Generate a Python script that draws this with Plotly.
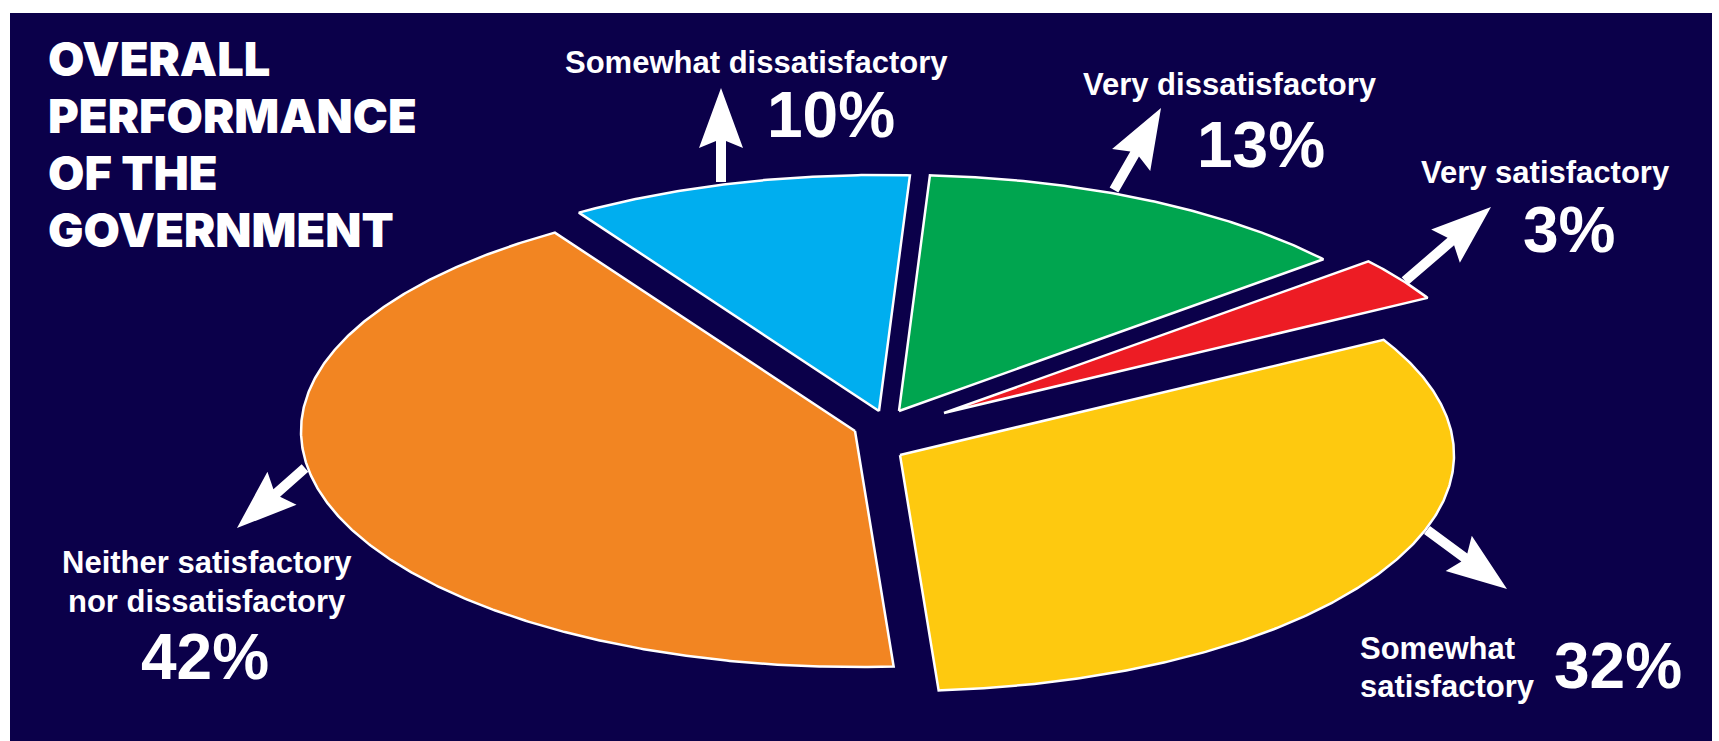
import numpy as np
import plotly.graph_objects as go

# ---------------- data ----------------
categories = ["Somewhat satisfactory", "Very satisfactory", "Very dissatisfactory",
              "Somewhat dissatisfactory", "Neither satisfactory nor dissatisfactory"]
values = [32, 3, 13, 10, 42]
value_labels = ["32%", "3%", "13%", "10%", "42%"]
title_lines = ["OVERALL", "PERFORMANCE", "OF THE", "GOVERNMENT"]

# ---------------- style / layout ----------------
W, H = 1719, 741
MARGIN = dict(l=10, r=7, t=13, b=0)
NAVY = "#0B004A"
colors = ["#FEC90F", "#ED1C24", "#00A54F", "#00AEEF", "#F28522"]
START_ANGLE = -86.0          # first slice starts here, slices go counter-clockwise
RX_PX, RY_PX = 554, 236      # pie radius (perspective ellipse) in pixels
CX_PX, CY_PX = 872, 436      # pie centre in pixels
# explode displacement of each slice in pixels (x right, y down)
explode_px = [(28, 19), (72, -23), (27, -25), (7, -25), (-17, -5)]

LABEL_FONT = "Liberation Sans, Arial, Helvetica, sans-serif"
TITLE_FONT = "Inter, Roboto, Liberation Sans, sans-serif"


def px2x(px):
    return (px - CX_PX) / RX_PX


def px2y(py):
    return (CY_PX - py) / RY_PX


fig = go.Figure()

# ---------------- wedges ----------------
total = float(sum(values))
theta0 = START_ANGLE
for i, v in enumerate(values):
    span = 360.0 * v / total
    th = np.radians(np.linspace(theta0, theta0 + span, max(8, int(span * 3))))
    ox = explode_px[i][0] / RX_PX
    oy = -explode_px[i][1] / RY_PX
    xs = np.concatenate([[ox], ox + np.cos(th), [ox]])
    ys = np.concatenate([[oy], oy + np.sin(th), [oy]])
    fig.add_trace(go.Scatter(
        x=xs, y=ys, mode="lines", fill="toself",
        fillcolor=colors[i], line=dict(color="white", width=2.5),
        name=categories[i], hoverinfo="name", showlegend=False))
    theta0 += span

# ---------------- arrows (decorations) ----------------
arrows_px = [
    ((1427, 530), (1507, 589)),   # somewhat satisfactory
    ((1405, 281), (1491, 207)),   # very satisfactory
    ((1114, 190), (1161, 108)),   # very dissatisfactory
    ((721, 182), (721, 88)),      # somewhat dissatisfactory
    ((305, 468), (237, 528)),     # neither
]


def arrow_path(tail, tip, shaft=10, head_len=60, head_w=44, notch=7):
    tx, ty = tail
    hx, hy = tip
    dx, dy = hx - tx, hy - ty
    L = np.hypot(dx, dy)
    ux, uy = dx / L, dy / L
    nx, ny = -uy, ux
    local = [(-L, shaft / 2), (-head_len + notch, shaft / 2), (-head_len, head_w / 2),
             (0, 0), (-head_len, -head_w / 2), (-head_len + notch, -shaft / 2), (-L, -shaft / 2)]
    pts = []
    for a, c in local:
        X = hx + a * ux + c * nx
        Y = hy + a * uy + c * ny
        pts.append(f"{px2x(X):.5f},{px2y(Y):.5f}")
    return "M" + " L".join(pts) + " Z"


shapes = []
for tail, tip in arrows_px:
    shapes.append(dict(type="path", xref="x", yref="y", path=arrow_path(tail, tip),
                       fillcolor="white", line=dict(width=0), layer="above"))

# ---------------- text ----------------
annotations = []


def add_text(text, x_px, baseline_px, size, xanchor="center", family=LABEL_FONT, weight="bold"):
    annotations.append(dict(
        x=px2x(x_px), y=px2y(baseline_px - 0.35 * size), xref="x", yref="y",
        text=text, showarrow=False, xanchor=xanchor, yanchor="middle",
        font=dict(family=family, size=size, color="white", weight=weight)))


# title
title_baselines = [75, 132, 189, 246]
for line, b in zip(title_lines, title_baselines):
    add_text(line, 46, b, 47, xanchor="left", family=TITLE_FONT, weight=900)

# labels
add_text(categories[3], 756, 73, 31)
add_text(value_labels[3], 831, 137, 64)
add_text(categories[2], 1230, 95, 31)
add_text(value_labels[2], 1261, 167, 64)
add_text(categories[1], 1545, 183, 31)
add_text(value_labels[1], 1569, 252, 64)
add_text("Neither satisfactory", 207, 573, 31)
add_text("nor dissatisfactory", 207, 612, 31)
add_text(value_labels[4], 205, 679, 64)
add_text("Somewhat", 1358, 659, 31, xanchor="left")
add_text("satisfactory", 1358, 697, 31, xanchor="left")
add_text(value_labels[0], 1552, 688, 64, xanchor="left")

fig.update_layout(
    width=W, height=H, margin=MARGIN,
    paper_bgcolor="white", plot_bgcolor=NAVY,
    xaxis=dict(range=[px2x(MARGIN["l"]), px2x(W - MARGIN["r"])], visible=False, fixedrange=True),
    yaxis=dict(range=[px2y(H - MARGIN["b"]), px2y(MARGIN["t"])], visible=False, fixedrange=True),
    shapes=shapes, annotations=annotations, showlegend=False,
)

fig.write_html("out.html")
